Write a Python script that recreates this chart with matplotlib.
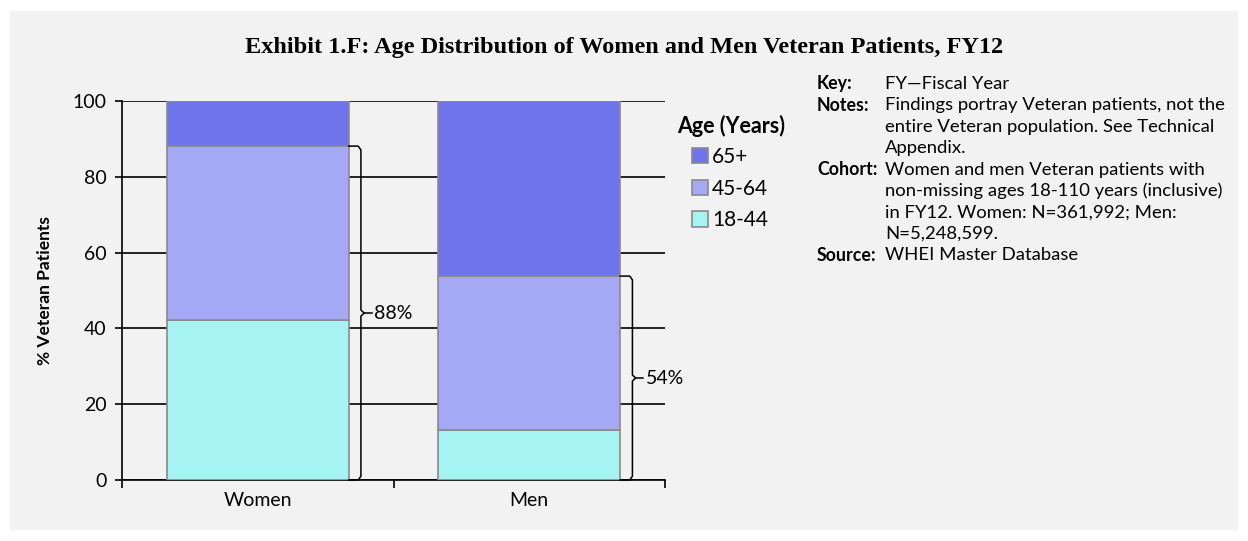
import numpy as np
import matplotlib.pyplot as plt
from matplotlib.patches import Rectangle

groups = ['Women', 'Men']
age_labels = ['18-44', '45-64', '65+']
pct_18_44 = [42.2, 13.3]
pct_45_64 = [45.9, 40.5]
pct_65 = [11.9, 46.2]
bracket_labels = ['88%', '54%']
colors = ['#a6f3f3', '#a5a8f5', '#6e74ec']

plt.rcParams['font.family'] = ['Lato', 'DejaVu Sans']

fig = plt.figure(figsize=(12.48, 5.41), dpi=100, facecolor='white')
fig.patches.append(Rectangle((10/1248, 11/541), 1228/1248, 519/541, transform=fig.transFigure,
                             facecolor='#f2f2f2', edgecolor='none', zorder=-1))

ax = fig.add_axes([122/1248, 1-480/541, 543/1248, 379/541])
ax.set_facecolor('none')

x = np.arange(len(groups))
w = 0.67
bottom = np.zeros(len(groups))
series = [pct_18_44, pct_45_64, pct_65]
bars = []
for vals, c, lab in zip(series, colors, age_labels):
    b = ax.bar(x, vals, w, bottom=bottom, color=c, edgecolor='#8a8a8a', linewidth=1.2, label=lab, zorder=3)
    bars.append(b)
    bottom = bottom + np.array(vals)

ax.set_xlim(-0.5, 1.5)
ax.set_ylim(0, 100)
ax.set_yticks(range(0, 101, 20))
ax.yaxis.grid(True, color='black', linewidth=1.2, zorder=0)
ax.set_axisbelow(True)
ax.set_xticks([-0.5, 0.5, 1.5], minor=False)
ax.set_xticklabels(['', '', ''])
ax.set_xticks(x, minor=True)
ax.set_xticklabels(groups, minor=True, fontsize=14)
ax.tick_params(axis='x', which='minor', length=0, pad=9)
ax.tick_params(axis='x', which='major', length=6, width=1.2, direction='out')
ax.tick_params(axis='y', length=5, width=1.2, labelsize=14, pad=6)
for s in ['top', 'right']:
    ax.spines[s].set_visible(False)
for s in ['left', 'bottom']:
    ax.spines[s].set_linewidth(1.2)
ax.set_ylabel('% Veteran Patients', fontsize=12.5, fontweight='bold', labelpad=14)

# curly brackets for 18-64 share
lower_two = np.array(pct_18_44) + np.array(pct_45_64)
for xi, top, lab in zip(x, lower_two, bracket_labels):
    xe = xi + w/2
    xv = xe + 0.045
    mid = top / 2
    r = 0.01
    ax.plot([xe, xv - r, xv, xv, xv + 0.012, xv, xv, xv - r, xe],
            [top, top, top - 1, mid + 0.8, mid, mid - 0.8, 1, 0, 0],
            color='black', linewidth=1.1, clip_on=False, zorder=4)
    ax.plot([xv + 0.012, xv + 0.04], [mid, mid], color='black', linewidth=1.1, clip_on=False, zorder=4)
    ax.text(xv + 0.05, mid, lab, fontsize=14, va='center', ha='left')

fig.text(677/1248, 1-126/541, 'Age (Years)', fontsize=15.5, fontweight='bold', va='center')
handles = [bars[2], bars[1], bars[0]]
leg = fig.legend(handles, ['65+', '45-64', '18-44'], loc='upper left', bbox_to_anchor=(692/1248, 1-147/541),
                 frameon=False, fontsize=15, handlelength=0.75, handleheight=0.75, borderpad=0,
                 borderaxespad=0, handletextpad=0.2, labelspacing=0.56)

fig.text(0.5, 1-47/541, 'Exhibit 1.F: Age Distribution of Women and Men Veteran Patients, FY12',
         ha='center', va='center', fontsize=17.5, fontweight='bold', family='Liberation Serif')

note_heads = ['Key:', 'Notes:', '', '', 'Cohort:', '', '', '', 'Source:']
note_lines = ['FY\u2014Fiscal Year',
              'Findings portray Veteran patients, not the',
              'entire Veteran population. See Technical',
              'Appendix.',
              'Women and men Veteran patients with',
              'non-missing ages 18-110 years (inclusive)',
              'in FY12. Women: N=361,992; Men:',
              'N=5,248,599.',
              'WHEI Master Database']
for i, (h, t) in enumerate(zip(note_heads, note_lines)):
    yy = 1 - (84 + i * 21.4) / 541
    if h:
        fig.text(817/1248, yy, h, fontsize=12.8, fontweight='bold', va='center')
    fig.text(885/1248, yy, t, fontsize=13.3, va='center')

fig.savefig('out.png', dpi=100, facecolor=fig.get_facecolor())
